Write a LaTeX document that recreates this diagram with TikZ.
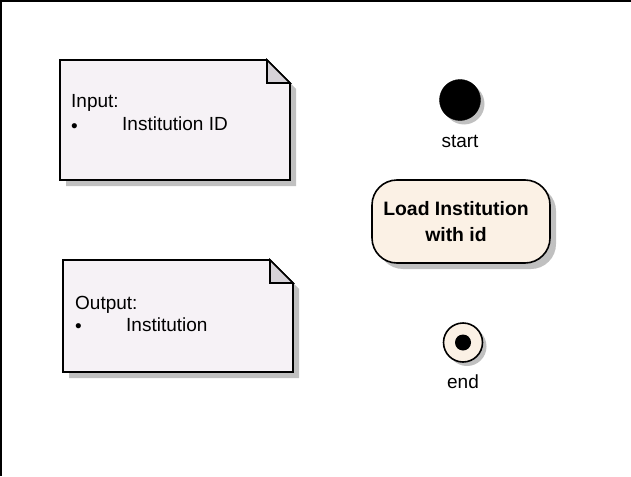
\documentclass[tikz,border=0pt]{standalone}
\usepackage{fontspec}
\setmainfont{Liberation Sans}
\usetikzlibrary{shadows}
\definecolor{notefill}{RGB}{246,242,246}
\definecolor{foldfill}{RGB}{214,210,216}
\definecolor{shadowgray}{RGB}{192,192,192}
\definecolor{actfill}{RGB}{251,241,229}
\begin{document}
\begin{tikzpicture}[x=1pt,y=-1pt,
  outline/.style={draw=black,line width=1.6pt,line join=miter},
  shade6/.style={drop shadow={shadow xshift=6pt,shadow yshift=-6pt,fill=shadowgray,opacity=1}},
  shade4/.style={drop shadow={shadow xshift=4pt,shadow yshift=-4pt,fill=shadowgray,opacity=1}},
  notetext/.style={font=\fontsize{19}{22}\selectfont,anchor=base west,inner sep=0pt},
  labeltext/.style={font=\fontsize{19}{22}\selectfont,anchor=base,inner sep=0pt},
  actionbox/.style={outline,fill=actfill,rounded corners=25pt,minimum width=178pt,minimum height=83pt,
    inner sep=0pt,shade6},
  actiontext/.style={align=center,inner sep=0pt,font=\bfseries\fontsize{19.4}{26}\selectfont},
  startdot/.style={circle,fill=black,draw=black,minimum size=41pt,inner sep=0pt,shade4},
  endring/.style={circle,outline,fill=actfill,minimum size=39pt,inner sep=0pt,shade4},
  enddot/.style={circle,fill=black,minimum size=16pt,inner sep=0pt}]
\useasboundingbox (0,0) rectangle (631,476);
\fill[white] (0,0) rectangle (631,476);
% frame
\draw[line width=2pt] (1,476) -- (1,1) -- (631,1);
% note 1
\fill[shadowgray] (66,66) -- (273,66) -- (296,89) -- (296,186) -- (66,186) -- cycle;
\draw[outline,fill=notefill] (60,60) -- (267,60) -- (290,83) -- (290,180) -- (60,180) -- cycle;
\draw[outline,fill=foldfill] (267,60) -- (267,83) -- (290,83) -- cycle;
\node[notetext] (in1) at (71,107) {Input:};
\node[notetext] (inb) at (71,132) {\textbullet};
\node[notetext] (in2) at (122,131) {Institution ID};
% note 2
\fill[shadowgray] (69,266) -- (276,266) -- (299,289) -- (299,378) -- (69,378) -- cycle;
\draw[outline,fill=notefill] (63,260) -- (270,260) -- (293,283) -- (293,372) -- (63,372) -- cycle;
\draw[outline,fill=foldfill] (270,260) -- (270,283) -- (293,283) -- cycle;
\node[notetext] (out1) at (75,309) {Output:};
\node[notetext] (outb) at (75,332) {\textbullet};
\node[notetext] (out2) at (126,331) {Institution};
% start
\node[startdot] (start) at (460,100) {};
\node[labeltext] (startlbl) at (460,147) {start};
% action
\node[actionbox] (load) at (461,221.5) {};
\node[actiontext] (loadtext) at (456,222) {Load Institution\\with id};
% end
\node[endring] (end) at (463,342.5) {};
\node[enddot] (enddot) at (end.center) {};
\node[labeltext] (endlbl) at (463,388) {end};
\end{tikzpicture}
\end{document}
